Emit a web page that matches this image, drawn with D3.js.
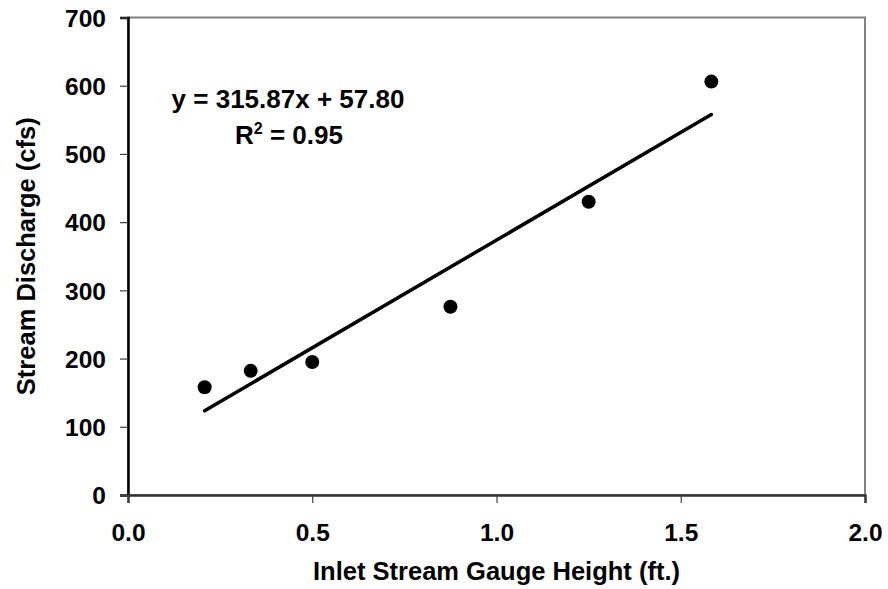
<!DOCTYPE html>
<meta charset="utf-8">
<style>
body { margin: 0; background: #fff; }
text {
  font-family: "Liberation Sans", Arial, sans-serif;
  font-weight: bold;
  fill: #000;
}
</style>
<svg width="888" height="589"></svg>
<script src="https://d3js.org/d3.v7.min.js"></script>
<script>

// gauge height (ft.) vs discharge (cfs)
var gaugeHeight = [0.208, 0.333, 0.5, 0.875, 1.25, 1.583];
var discharge = [158, 182, 195, 276, 430, 606];

var xTicks = [0, 0.5, 1.0, 1.5, 2.0];
var yTicks = [0, 100, 200, 300, 400, 500, 600, 700];

var slope = 315.87, intercept = 57.80;

var svg = d3.select("svg"),
    mLeft = 128, mTop = 17.5, mRight = 865, mBottom = 495;

var x = d3.scaleLinear().domain([0, 2]).range([mLeft, mRight]);
var y = d3.scaleLinear().domain([0, 700]).range([mBottom, mTop]);

// frame
svg.append("rect")
    .attr("x", mLeft).attr("y", mTop)
    .attr("width", mRight - mLeft).attr("height", mBottom - mTop)
    .attr("fill", "none")
    .attr("stroke", "#808080")
    .attr("stroke-width", 2);

var yAxis = svg.append("g")
    .attr("transform", "translate(" + mLeft + ",0)")
    .call(d3.axisLeft(y).tickValues(yTicks).tickSize(8).tickPadding(14).tickFormat(d3.format("d")));
yAxis.select(".domain").attr("stroke", "#000").attr("stroke-width", 2.5);
yAxis.selectAll(".tick line").attr("stroke", "#404040").attr("stroke-width", 1.2);
yAxis.selectAll("text").style("font-size", "24.5px").attr("dy", "0.36em");

var xAxis = svg.append("g")
    .attr("transform", "translate(0," + mBottom + ")")
    .call(d3.axisBottom(x).tickValues(xTicks).tickSize(8).tickPadding(21).tickFormat(d3.format(".1f")));
xAxis.select(".domain").attr("stroke", "#333").attr("stroke-width", 2.5);
xAxis.selectAll(".tick line").attr("stroke", "#404040").attr("stroke-width", 1.2);
xAxis.selectAll("text").style("font-size", "24.5px");

// trend line over the data range
var xr = d3.extent(gaugeHeight);
svg.append("line")
    .attr("x1", x(xr[0])).attr("y1", y(slope * xr[0] + intercept))
    .attr("x2", x(xr[1])).attr("y2", y(slope * xr[1] + intercept))
    .attr("stroke", "#000")
    .attr("stroke-width", 3.5)
    .attr("stroke-linecap", "round");

svg.append("g").selectAll("circle")
    .data(gaugeHeight)
    .enter().append("circle")
      .attr("cx", function(d) { return x(d); })
      .attr("cy", function(d, i) { return y(discharge[i]); })
      .attr("r", 7)
      .attr("fill", "#000");

// equation
svg.append("text")
    .attr("x", 288).attr("y", 108)
    .attr("text-anchor", "middle")
    .style("font-size", "26px")
    .text("y = " + slope.toFixed(2) + "x + " + intercept.toFixed(2));

var r2 = svg.append("text")
    .attr("x", 289).attr("y", 144)
    .attr("text-anchor", "middle")
    .style("font-size", "26px");
r2.append("tspan").text("R");
r2.append("tspan").attr("dy", -10).style("font-size", "16px").text("2");
r2.append("tspan").attr("dy", 10).text(" = 0.95");

// axis titles
svg.append("text")
    .attr("x", (mLeft + mRight) / 2).attr("y", 580)
    .attr("text-anchor", "middle")
    .style("font-size", "25.5px")
    .text("Inlet Stream Gauge Height (ft.)");

svg.append("text")
    .attr("transform", "translate(35," + (mTop + mBottom) / 2 + ") rotate(-90)")
    .attr("text-anchor", "middle")
    .style("font-size", "25.5px")
    .text("Stream Discharge (cfs)");

</script>
